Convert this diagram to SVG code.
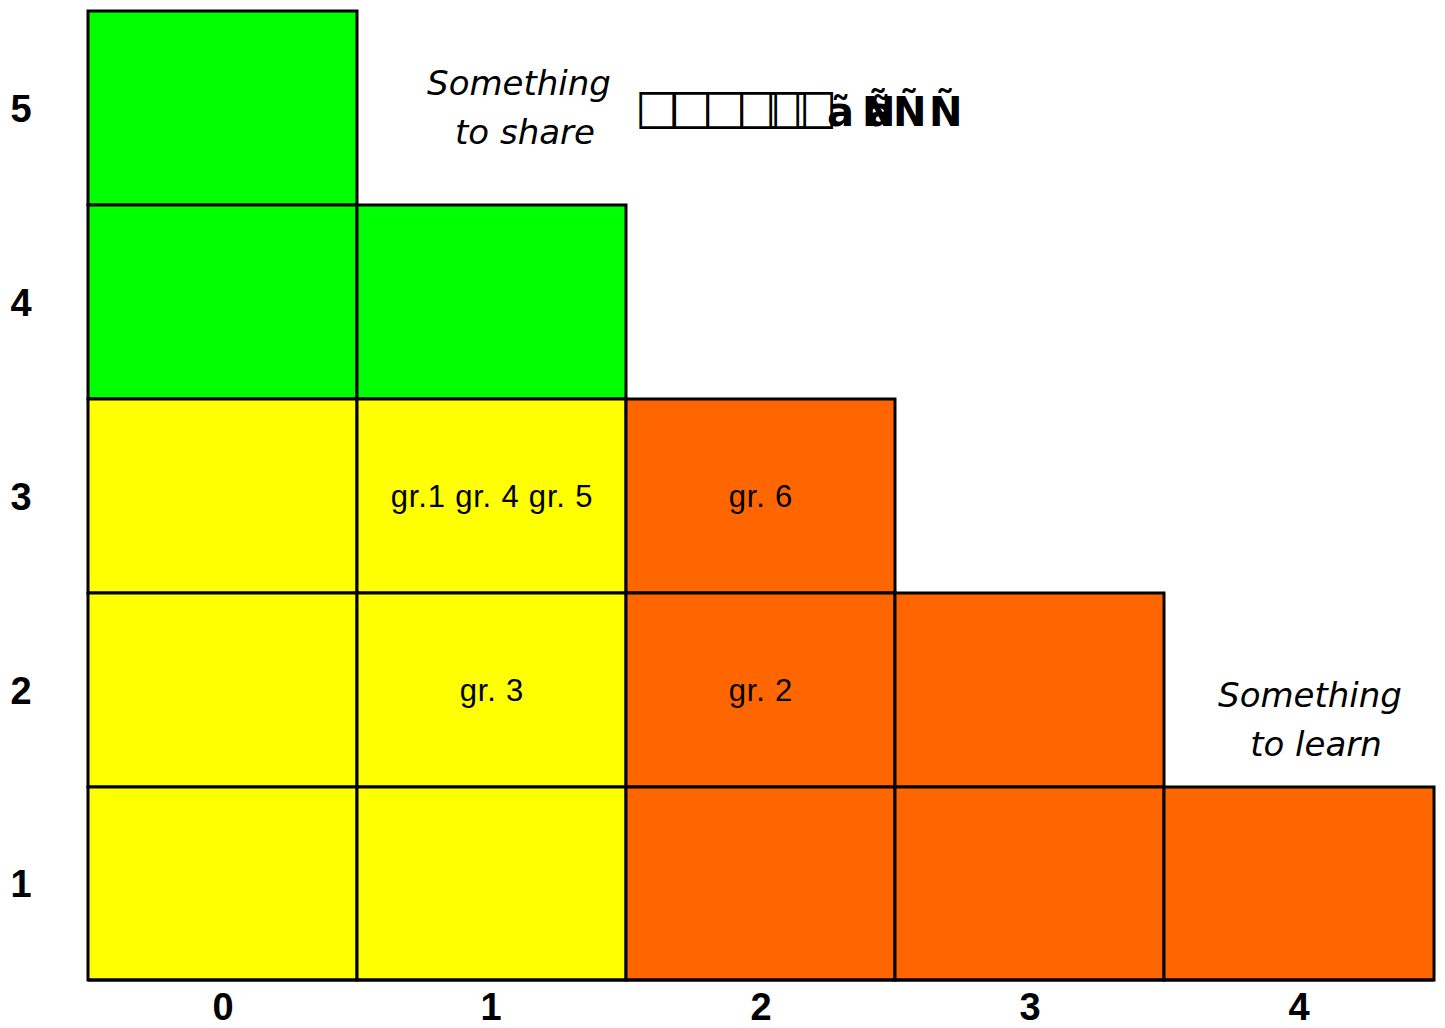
<svg xmlns="http://www.w3.org/2000/svg" width="1445" height="1028" viewBox="0 0 1445 1028">
<style>
.c{stroke:#000;stroke-width:3}
.g{fill:#00FF00}.y{fill:#FFFF00}.o{fill:#FF6600}
.ax{font-family:"Liberation Sans",Arial,sans-serif;font-weight:bold;font-size:38px;fill:#000;text-anchor:middle}
.gr{font-family:"Liberation Sans",Arial,sans-serif;font-size:31px;letter-spacing:0.8px;fill:#000;text-anchor:middle}
.it{font-family:"DejaVu Sans",sans-serif;font-style:italic;font-size:34px;fill:#000;text-anchor:middle}
.tf{font-family:"DejaVu Sans",sans-serif;font-weight:bold;fill:#000}
</style>
<rect width="1445" height="1028" fill="#fff"/>
<g id="cells">
<g id="c0r5"><rect class="c g" x="88" y="11" width="269" height="194"/></g>
<g id="c0r4"><rect class="c g" x="88" y="205" width="269" height="194"/></g>
<g id="c1r4"><rect class="c g" x="357" y="205" width="269" height="194"/></g>
<g id="c0r3"><rect class="c y" x="88" y="399" width="269" height="194"/></g>
<g id="c1r3"><rect class="c y" x="357" y="399" width="269" height="194"/><text class="gr" x="492" y="507">gr.1 gr. 4 gr. 5</text></g>
<g id="c2r3"><rect class="c o" x="626" y="399" width="269" height="194"/><text class="gr" x="761" y="507">gr. 6</text></g>
<g id="c0r2"><rect class="c y" x="88" y="593" width="269" height="194"/></g>
<g id="c1r2"><rect class="c y" x="357" y="593" width="269" height="194"/><text class="gr" x="492" y="701">gr. 3</text></g>
<g id="c2r2"><rect class="c o" x="626" y="593" width="269" height="194"/><text class="gr" x="761" y="701">gr. 2</text></g>
<g id="c3r2"><rect class="c o" x="895" y="593" width="269" height="194"/></g>
<g id="c0r1"><rect class="c y" x="88" y="787" width="269" height="193"/></g>
<g id="c1r1"><rect class="c y" x="357" y="787" width="269" height="193"/></g>
<g id="c2r1"><rect class="c o" x="626" y="787" width="269" height="193"/></g>
<g id="c3r1"><rect class="c o" x="895" y="787" width="269" height="193"/></g>
<g id="c4r1"><rect class="c o" x="1164" y="787" width="270" height="193"/></g>
</g>
<g id="axes">
<line x1="88" y1="980" x2="1434" y2="980" stroke="#000" stroke-width="3"/>
<text class="ax" x="21" y="122">5</text>
<text class="ax" x="21" y="316">4</text>
<text class="ax" x="21" y="510">3</text>
<text class="ax" x="21" y="704">2</text>
<text class="ax" x="21" y="897">1</text>
<text class="ax" x="223" y="1020">0</text>
<text class="ax" x="491" y="1020">1</text>
<text class="ax" x="761" y="1020">2</text>
<text class="ax" x="1030" y="1020">3</text>
<text class="ax" x="1299" y="1020">4</text>
</g>
<g id="share"><text class="it" x="519" y="95">Something</text><text class="it" x="525" y="144">to share</text></g>
<g id="learn"><text class="it" x="1310" y="707">Something</text><text class="it" x="1316" y="756">to learn</text></g>
<g id="garbled">
<text class="tf" y="123"><tspan font-size="48" x="635 668 702 736 765 792">□□□□□□</tspan><tspan font-size="40" y="126" x="827 852 862 867 893 929">ã ÑãÑÑ</tspan></text>
</g>
</svg>
